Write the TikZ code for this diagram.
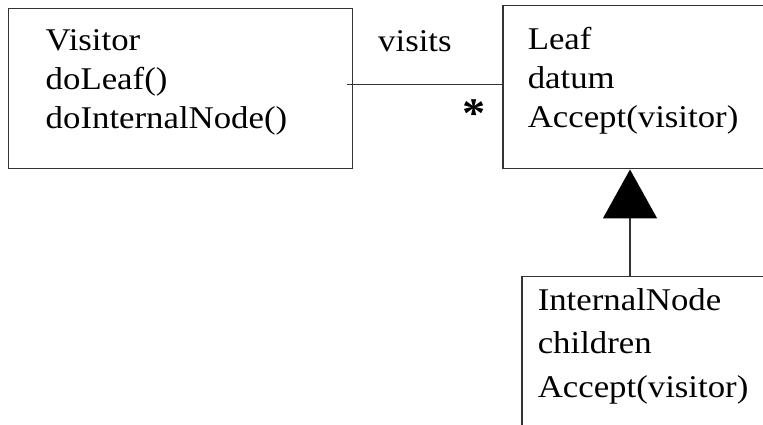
\documentclass[tikz,border=0pt]{standalone}
\usepackage{fontspec}
\setmainfont[FakeStretch=1.1]{Liberation Serif}
\usetikzlibrary{positioning,calc,arrows.meta}

\tikzset{
  umlfont/.style={font=\fontsize{18}{22}\selectfont},
  classbox/.style={umlfont, draw=black!80, line width=0.85pt, anchor=north west,
    align=left, inner ysep=0pt},
  assoc/.style={draw=black!80, line width=0.8pt},
  genarrow/.style={draw=black!80, line width=0.8pt,
    -{Triangle[width=1.08cm,length=0.98cm,color=black]}},
}

\begin{document}
\begin{tikzpicture}[x=0.02cm, y=-0.02cm]
  \clip (0,0) rectangle (763,425);

  % Classes
  \node[classbox, inner xsep=0.74cm, text width=5.4cm, text height=0.84cm, text depth=2.36cm]
    (visitor) at (8,8) {Visitor\\doLeaf()\\doInternalNode()};
  \node[classbox, inner xsep=0.5cm, text width=4.4cm, text height=0.88cm, text depth=2.38cm]
    (leaf) at (502,5) {Leaf\\datum\\Accept(visitor)};
  \node[classbox, inner xsep=0.32cm, text width=5.36cm, text height=0.68cm, text depth=4cm]
    (internal) at (521,276) {InternalNode\\[2.6pt]children\\[2.6pt]Accept(visitor)};

  % Association Visitor -- Leaf
  \draw[assoc] ($(visitor.east |- leaf.west)+(-6,-3)$) -- ($(leaf.west)+(0,-3)$);
  \node[umlfont, anchor=base west] (visits) at (372,52) {visits};
  \node[font=\fontsize{24}{24}\selectfont\bfseries] (mult) at (474,114) {*};

  % Generalization InternalNode -> Leaf
  \coordinate (gen) at (630,0);
  \draw[genarrow] (internal.north -| gen) -- (leaf.south -| gen);
\end{tikzpicture}
\end{document}
